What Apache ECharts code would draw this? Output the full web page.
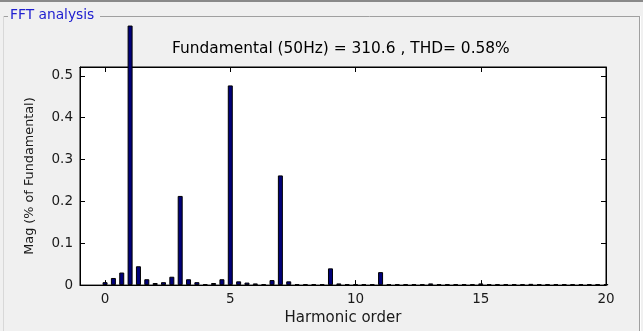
<!DOCTYPE html>
<html>
<head>
<meta charset="utf-8">
<script src="https://cdn.jsdelivr.net/npm/echarts@6/dist/echarts.min.js"></script>
<style>
  html, body { margin: 0; padding: 0; background: #f0f0f0; }
  #chart { width: 643px; height: 331px; }
</style>
</head>
<body>
<div id="chart"></div>
<script>
// FFT spectrum: one bin every 1/3 harmonic (50/3 Hz resolution), 0..20th harmonic
const binStep = 1 / 3;
// Magnitude of each bin, as a fraction of the fundamental (bin 3 = fundamental, shown cut off)
const magnitudes = [
  0.007, 0.017, 0.030, 0.620, 0.045, 0.014, 0.005, 0.007, 0.020, 0.213,
  0.014, 0.007, 0.002, 0.005, 0.014, 0.477, 0.009, 0.006, 0.004, 0.002,
  0.012, 0.262, 0.009, 0.002, 0.002, 0.002, 0.002, 0.040, 0.004, 0.002,
  0.002, 0.002, 0.002, 0.031, 0.002, 0.002, 0.002, 0.002, 0.002, 0.004,
  0.002, 0.002, 0.002, 0.002, 0.002, 0.004, 0.002, 0.002, 0.002, 0.002,
  0.002, 0.003, 0.002, 0.002, 0.002, 0.002, 0.002, 0.002, 0.002, 0.002,
  0.002
];
const xTickValues = [0, 5, 10, 15, 20];
const yTickValues = [0, 0.1, 0.2, 0.3, 0.4, 0.5];
const panelTitle = 'FFT analysis';
const summaryText = 'Fundamental (50Hz) = 310.6 , THD= 0.58%';
const xAxisTitle = 'Harmonic order';
const yAxisTitle = 'Mag (% of Fundamental)';

const barData = magnitudes.map((m, i) => [i * binStep, m]);

const font = '"DejaVu Sans", sans-serif';
const axisColor = '#000';
const labelColor = '#1a1a1a';

const chart = echarts.init(document.getElementById('chart'), null, { renderer: 'canvas' });

const yLabelFmt = v => {
  const r = Math.round(v * 10) / 10;
  return Math.abs(v - r) < 1e-6 ? String(r) : '';
};

const lineStyle = { color: axisColor, width: 1 };

chart.setOption({
  backgroundColor: '#f0f0f0',
  animation: false,
  grid: { left: 80, top: 67, width: 526, height: 222, show: true, backgroundColor: '#ffffff', borderColor: '#000', borderWidth: 1 },
  graphic: [
    // window edge at the very top
    { type: 'rect', shape: { x: 0, y: 0, width: 643, height: 2 }, style: { fill: '#8a8a8a' } },
    // panel frame
    { type: 'line', shape: { x1: 3, y1: 16.5, x2: 8, y2: 16.5 }, style: { stroke: '#a0a0a0', lineWidth: 1 } },
    { type: 'line', shape: { x1: 100, y1: 16.5, x2: 639, y2: 16.5 }, style: { stroke: '#a0a0a0', lineWidth: 1 } },
    { type: 'line', shape: { x1: 639.5, y1: 16, x2: 639.5, y2: 331 }, style: { stroke: '#a0a0a0', lineWidth: 1 } },
    { type: 'line', shape: { x1: 640.5, y1: 16, x2: 640.5, y2: 331 }, style: { stroke: '#ffffff', lineWidth: 1 } },
    { type: 'line', shape: { x1: 3.5, y1: 16, x2: 3.5, y2: 331 }, style: { stroke: '#d8d8d8', lineWidth: 1 } },
    {
      type: 'text', left: 10, top: 8,
      style: { text: panelTitle, fill: '#2020d0', font: '13.8px ' + font }
    },
    {
      type: 'text', left: 172, top: 41,
      style: { text: summaryText, fill: '#000', font: '15.4px ' + font }
    }
  ],
  xAxis: [
    {
      type: 'value', min: -1, max: 20, position: 'bottom',
      name: xAxisTitle, nameLocation: 'middle', nameGap: 25,
      nameTextStyle: { color: labelColor, fontFamily: font, fontSize: 15 },
      axisLine: { show: true, onZero: false, lineStyle },
      axisTick: { show: true, inside: true, length: 5, customValues: xTickValues, lineStyle },
      axisLabel: { customValues: xTickValues, color: labelColor, fontFamily: font, fontSize: 13.5, margin: 7 },
      splitLine: { show: false }
    },
    {
      type: 'value', min: -1, max: 20, position: 'top',
      axisLine: { show: true, onZero: false, lineStyle },
      axisTick: { show: true, inside: true, length: 5, customValues: xTickValues, lineStyle },
      axisLabel: { show: false },
      splitLine: { show: false }
    }
  ],
  yAxis: [
    {
      type: 'value', min: 0, max: 0.521, position: 'left',
      name: yAxisTitle, nameLocation: 'middle', nameGap: 44, nameRotate: 90,
      nameTextStyle: { color: labelColor, fontFamily: font, fontSize: 12.8 },
      axisLine: { show: true, onZero: false, lineStyle },
      axisTick: { show: true, inside: true, length: 5, customValues: yTickValues, lineStyle },
      axisLabel: { customValues: yTickValues, formatter: yLabelFmt, color: labelColor, fontFamily: font, fontSize: 13.5, margin: 7 },
      splitLine: { show: false }
    },
    {
      type: 'value', min: 0, max: 0.521, position: 'right',
      axisLine: { show: true, onZero: false, lineStyle },
      axisTick: { show: true, inside: true, length: 5, customValues: yTickValues, lineStyle },
      axisLabel: { show: false },
      splitLine: { show: false }
    }
  ],
  series: [
    {
      type: 'bar',
      xAxisIndex: 0, yAxisIndex: 0,
      data: barData,
      barWidth: 5,
      clip: false,
      itemStyle: { color: '#00007a', borderColor: '#000000', borderWidth: 1 }
    }
  ]
});
</script>
</body>
</html>
